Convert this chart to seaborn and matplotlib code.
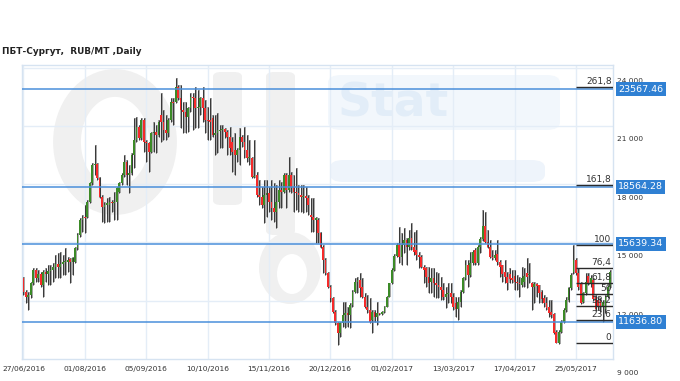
import matplotlib
matplotlib.use("Agg")
import matplotlib.pyplot as plt
import matplotlib.transforms as mtransforms
from matplotlib.patches import Ellipse, FancyBboxPatch
import numpy as np
import pandas as pd
import seaborn as sns

# ---------------- data ----------------
open_ = [
    13860, 13180, 12920, 13010, 13610, 14290, 13860, 14070, 13520, 14200,
    14070, 14240, 14290, 14460, 14580, 14460, 14580, 14680, 14720, 14850,
    14680, 14720, 15400, 16090, 16850, 17020, 17020, 17800, 18740, 19680,
    19710, 18990, 18050, 17540, 17620, 17620, 17800, 17710, 17760, 18310,
    18740, 19160, 19810, 19160, 19250, 20190, 20960, 21640, 21040, 21980,
    20870, 20790, 20360, 21300, 21390, 21220, 22240, 21900, 21470, 21300,
    21980, 22930, 22930, 23690, 23100, 22500, 22410, 22160, 22580, 23180,
    23100, 22580, 22670, 23100, 22580, 21980, 21980, 22070, 21220, 21300,
    21420, 21470, 21520, 21390, 21130, 20870, 20450, 20190, 20450, 21130,
    20870, 20450, 20020, 20020, 19080, 19160, 18140, 18050, 17620, 18140,
    18220, 17800, 17450, 17280, 17800, 18390, 18310, 19160, 18390, 19160,
    18560, 18310, 18220, 18140, 18050, 18100, 17970, 17110, 17020, 16850,
    16850, 16170, 15490, 14800, 14120, 13430, 12830, 12150, 11550, 11040,
    11550, 11980, 12070, 11980, 12490, 13180, 13690, 13780, 13430, 12920,
    12410, 12240, 11720, 12150, 11890, 12070, 12010, 12150, 12410, 12920,
    13600, 14290, 15010, 15570, 14970, 15570, 15830, 15490, 15910, 15490,
    15310, 15060, 14970, 14460, 14370, 13950, 13690, 13860, 13600, 13520,
    13430, 13260, 12920, 13060, 13090, 12920, 12580, 12270, 12660, 13180,
    13860, 14540, 14030, 14630, 15310, 14630, 15490, 15860, 16550, 15740,
    15490, 14940, 14890, 15110, 14720, 14540, 14200, 13910, 14080, 13860,
    13980, 13690, 13600, 13520, 13690, 14120, 14030, 13600, 13430, 13570,
    13520, 13180, 12830, 12610, 12410, 12150, 12030, 11120, 10560, 11120,
    11640, 12240, 12750, 13350, 14190, 14800, 14120, 13600, 12660, 13090,
    13980, 13600, 13780, 12920, 12750, 12720, 12410, 12270, 12920, 13430,
]
high = [
    13950, 13260, 13180, 13690, 14370, 14370, 14290, 14200, 14290, 14370,
    14550, 14550, 14630, 15060, 15140, 15230, 15060, 15400, 14970, 14920,
    14970, 15490, 16170, 16940, 17110, 17620, 17880, 18820, 19760, 20700,
    19760, 19080, 18140, 17800, 17970, 18050, 17880, 18310, 18560, 18820,
    19250, 20190, 19930, 19680, 20270, 22070, 22160, 21730, 22070, 22070,
    20960, 20870, 21390, 21900, 21730, 21980, 23350, 22500, 22240, 22070,
    23100, 23100, 24120, 23780, 23780, 22930, 22930, 22670, 23350, 23350,
    23690, 23520, 23180, 23690, 23010, 22670, 23100, 22240, 22240, 22330,
    21730, 21730, 21560, 21470, 21640, 21130, 21300, 20530, 21560, 21220,
    21640, 21220, 20960, 20100, 20960, 19330, 18910, 18560, 18910, 18910,
    18560, 18910, 18740, 18650, 18910, 18820, 19250, 19250, 20100, 19330,
    19160, 19500, 18650, 18650, 18650, 18560, 18140, 17960, 17960, 17020,
    16940, 16250, 15570, 14890, 14200, 13520, 12920, 12240, 11640, 11640,
    12660, 12660, 12410, 12580, 13260, 13860, 13950, 14120, 13860, 13090,
    13010, 12830, 12240, 12240, 12660, 12100, 12190, 12440, 12950, 13640,
    14370, 15110, 15660, 16510, 16170, 16430, 15910, 16340, 16680, 16250,
    16340, 15230, 15060, 14540, 14460, 14460, 14370, 14370, 14200, 14120,
    13950, 13600, 13430, 13600, 13600, 13090, 12920, 12920, 13260, 13950,
    14800, 14800, 15230, 15310, 15400, 15570, 15960, 17370, 17280, 16340,
    15830, 15310, 15310, 15830, 14800, 14540, 14800, 14200, 14370, 14290,
    14290, 14030, 13950, 14460, 14370, 14890, 14630, 13690, 13690, 13600,
    13520, 13260, 13010, 12920, 12750, 12750, 12100, 11210, 11210, 11720,
    12320, 12920, 13430, 14120, 15550, 14890, 14370, 13690, 13180, 14120,
    14120, 14030, 13860, 13010, 12920, 12830, 12750, 13010, 13520, 14290,
]
low = [
    13010, 12580, 12240, 12840, 13520, 13690, 13690, 13430, 12920, 13690,
    13520, 13520, 13690, 13860, 13860, 13860, 14030, 14030, 14200, 13610,
    14030, 14630, 15320, 16000, 16260, 16170, 16940, 17710, 18650, 19160,
    18910, 17960, 16770, 16680, 16770, 16770, 17280, 16850, 16850, 18220,
    18650, 19080, 18650, 18220, 19160, 19500, 20870, 20960, 20960, 20360,
    19850, 19330, 20270, 20360, 20270, 21130, 20870, 20960, 20960, 21130,
    21900, 21730, 22840, 23010, 21560, 21300, 21300, 21390, 22410, 21470,
    21560, 21560, 22240, 21900, 21300, 20960, 20960, 21130, 20190, 20270,
    20530, 20530, 21040, 20190, 20190, 19330, 19160, 19850, 19680, 20620,
    20020, 19850, 19680, 18990, 18990, 18050, 17620, 17450, 16680, 17030,
    17280, 16850, 16770, 16430, 17450, 17450, 18220, 17450, 18310, 18220,
    17280, 17370, 17280, 17280, 17200, 17280, 17110, 16250, 16250, 15660,
    15660, 15400, 14120, 14030, 13350, 12660, 12070, 11470, 10440, 10870,
    11380, 11300, 11380, 11300, 12410, 13090, 13090, 12920, 12830, 12320,
    12070, 11550, 11040, 11640, 11470, 11980, 11980, 12100, 12370, 12890,
    13570, 14250, 14970, 14630, 14540, 15140, 14540, 15310, 15310, 15060,
    14800, 14370, 14370, 13600, 13430, 13090, 13090, 12920, 12830, 12830,
    12750, 12750, 12320, 12580, 12580, 12240, 11890, 11720, 12410, 13090,
    13780, 13430, 13950, 14540, 14540, 14540, 15140, 15790, 15690, 15400,
    14890, 14800, 14800, 14540, 13950, 13690, 13600, 13260, 13600, 13600,
    13260, 13260, 12920, 13430, 13430, 13350, 13600, 12240, 12580, 12920,
    12580, 12580, 12410, 12240, 11890, 11810, 11010, 10530, 10490, 11040,
    11550, 12150, 12660, 13260, 14080, 14030, 13260, 12540, 12580, 13010,
    13520, 13430, 12720, 12200, 12240, 12150, 11640, 12070, 12830, 13350,
]
close = [
    13180, 12920, 13010, 13610, 14290, 13860, 14070, 13520, 14200, 14070,
    14240, 14290, 14460, 14580, 14460, 14580, 14680, 14720, 14800, 14680,
    14920, 15400, 16090, 16850, 16970, 16940, 17800, 18740, 19680, 19710,
    18990, 18050, 17540, 17620, 17710, 17800, 17710, 17760, 18480, 18740,
    19160, 19810, 19160, 19250, 20190, 20960, 21640, 21040, 21980, 20870,
    20790, 20360, 21300, 21390, 21220, 21900, 21900, 21470, 21300, 21980,
    22930, 22840, 23690, 23100, 22500, 22410, 22160, 22580, 23180, 23100,
    22580, 22670, 23100, 22580, 21980, 21940, 21900, 21220, 21300, 21470,
    21470, 21520, 21390, 21130, 20530, 20360, 20190, 20450, 21130, 20870,
    20450, 20020, 20100, 19080, 19130, 18140, 18050, 17620, 18140, 18220,
    17800, 17450, 17280, 17800, 18390, 18310, 19160, 18390, 19160, 18560,
    18310, 18220, 18140, 18050, 18100, 17970, 17620, 17020, 16850, 16940,
    16170, 15490, 14800, 14120, 13430, 12830, 12150, 11550, 11040, 11550,
    11980, 12070, 11980, 12490, 13180, 13690, 13780, 13350, 12920, 12410,
    12240, 11640, 12150, 11890, 12070, 12010, 12150, 12410, 12920, 13600,
    14290, 15010, 15570, 14970, 15570, 15830, 15490, 15910, 15490, 15230,
    15060, 14970, 14460, 14290, 13950, 13600, 13860, 13600, 13520, 13430,
    13260, 12920, 13060, 13090, 12920, 12410, 12270, 12660, 13180, 13860,
    14540, 14030, 14630, 15230, 14630, 15490, 15860, 16550, 15740, 15490,
    14940, 14890, 15060, 14720, 14460, 14080, 13910, 13600, 13810, 13780,
    13690, 13600, 13550, 13860, 13980, 13950, 14080, 13430, 13570, 13470,
    13090, 12780, 12580, 12320, 12100, 11980, 11070, 10560, 11120, 11640,
    12240, 12750, 13350, 14030, 14800, 14120, 13430, 12610, 13090, 13690,
    13600, 13860, 12780, 12270, 12410, 12370, 12660, 12920, 13430, 14200,
]

date_labels = ["27/06/2016", "01/08/2016", "05/09/2016", "10/10/2016", "15/11/2016",
               "20/12/2016", "01/02/2017", "13/03/2017", "17/04/2017", "25/05/2017"]
date_pos = [0, 25, 50, 75, 100, 125, 150, 175, 200, 225]

price_ticks = [9000, 12000, 15000, 18000, 21000, 24000]
price_tick_labels = ["9 000", "12 000", "15 000", "18 000", "21 000", "24 000"]
grid_levels = [12700, 15700, 18700, 21700, 24650]

level_values = [23567.46, 18564.28, 15639.34, 11636.80]
level_labels = ["23567.46", "18564.28", "15639.34", "11636.80"]

fib_low, fib_high, fib_start = 10540, 15560, 225
fib_ratios = [0, 23.6, 38.2, 50, 61.8, 76.4, 100, 161.8, 261.8]
fib_labels = ["0", "23,6", "38,2", "50", "61,8", "76,4", "100", "161,8", "261,8"]

title = "ПБТ-Сургут,  RUB/MT ,Daily"

# ---------------- styling ----------------
sns.set_style("white")
plt.rcParams["font.family"] = ["DejaVu Sans"]

df = pd.DataFrame({"i": np.arange(len(close)), "open": open_, "high": high,
                   "low": low, "close": close})
df["up"] = df["close"] >= df["open"]
df["body_lo"] = df[["open", "close"]].min(axis=1)
df["body_h"] = (df["close"] - df["open"]).abs().clip(lower=45)

GREEN, RED = "#3b8a27", "#f52a2a"
GRID = "#e4edf7"
BLUE_LINE, BLUE_BOX = "#4a8fdb", "#2f80d3"
TXT = "#333333"

W, H = 680, 381
fig = plt.figure(figsize=(W / 100, H / 100), dpi=100)
fig.patch.set_facecolor("white")


def fx(px):
    return px / W


def fy(py):
    return 1 - py / H


ax = fig.add_axes([fx(22), 1 - 359 / H, fx(591), 294 / H])
ax.set_facecolor("white")
ax.set_xlim(-0.6, 240.1)
ax.set_ylim(9720, 24806)

# watermark (faint "OilStat" logo) drawn behind everything in the axes
wm = "#f0f0f0"
TF = fig.transFigure


def add_wm(p):
    p.set_transform(TF)
    p.set_zorder(0.5)
    p.set_clip_on(False)
    ax.add_patch(p)


add_wm(Ellipse((fx(115), fy(142)), fx(96), 118 / H, fill=False, ec=wm, lw=20))
add_wm(FancyBboxPatch((fx(213), fy(205)), fx(29), 133 / H,
                      boxstyle="round,pad=0,rounding_size=0.012", fc=wm, ec="none"))
add_wm(FancyBboxPatch((fx(266), fy(235)), fx(29), 163 / H,
                      boxstyle="round,pad=0,rounding_size=0.012", fc=wm, ec="none"))
add_wm(Ellipse((fx(290), fy(268)), fx(62), 72 / H, fc=wm, ec="none"))
add_wm(Ellipse((fx(292), fy(274)), fx(30), 40 / H, fc="white", ec="none"))
add_wm(FancyBboxPatch((fx(328), fy(130)), fx(232), 55 / H,
                      boxstyle="round,pad=0,rounding_size=0.02", fc="#f2f7fc", ec="none"))
add_wm(FancyBboxPatch((fx(330), fy(182)), fx(215), 22 / H,
                      boxstyle="round,pad=0,rounding_size=0.02", fc="#eef4fb", ec="none"))
ax.text(fx(338), fy(104), "Stat", transform=TF, fontsize=34, fontweight="bold",
        color="#e2edf8", va="center", ha="left", zorder=0.6, clip_on=False)

# grid
for xv in date_pos:
    ax.axvline(xv, color=GRID, lw=1.0, zorder=1)
for yv in grid_levels:
    ax.axhline(yv, color=GRID, lw=1.0, zorder=1)

# candles
ax.vlines(df["i"] + 0.35, df["low"], df["high"], color="#a0a0a0", lw=1.3, zorder=2)
ax.vlines(df["i"], df["low"], df["high"], color="#3a3a3a", lw=0.75, zorder=3)
ax.bar(df["i"], df["body_h"], bottom=df["body_lo"], width=0.72,
       color=np.where(df["up"], GREEN, RED), linewidth=0, zorder=4)

# horizontal blue levels
for v in level_values:
    ax.axhline(v, color=BLUE_LINE, lw=1.1, zorder=5)

# fibonacci levels
for r, lab in zip(fib_ratios, fib_labels):
    v = fib_low + (fib_high - fib_low) * r / 100
    ax.hlines(v, fib_start, 239.9, color="#2a2a2a", lw=1.0, zorder=6)
    ax.annotate(lab, xy=(239.5, v), xytext=(0, 2.2), textcoords="offset points",
                ha="right", va="baseline", fontsize=6.5, color=TXT, zorder=7)

# axes frame
for s in ax.spines.values():
    s.set_color("#d6e3f1")
    s.set_linewidth(1.0)

ax.set_yticks([])
ax.set_xticks(date_pos)
ax.set_xticklabels(date_labels, fontsize=5.4, color=TXT)
ax.tick_params(axis="x", length=0, pad=5)

# right price labels
trans = mtransforms.blended_transform_factory(ax.transAxes, ax.transData)
for v, lab in zip(price_ticks, price_tick_labels):
    ax.text(1.0068, v, lab, transform=trans, fontsize=5.3, color=TXT,
            ha="left", va="center", clip_on=False, zorder=8)
for v, lab in zip(level_values, level_labels):
    ax.text(1.0085, v, lab, transform=trans, fontsize=6.8, color="white",
            ha="left", va="center", clip_on=False, zorder=10,
            bbox=dict(boxstyle="square,pad=0.25", fc=BLUE_BOX, ec="none"))

fig.text(fx(2), fy(52), title, fontsize=6.4, fontweight="bold", color="#222222",
         ha="left", va="center")

fig.savefig("out.png", dpi=100, facecolor="white")
